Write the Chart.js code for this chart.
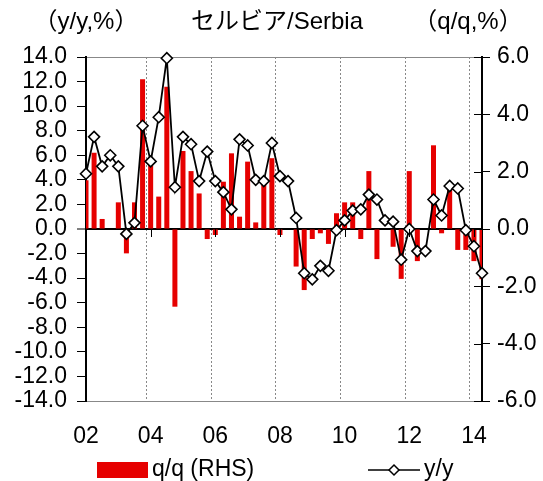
<!DOCTYPE html>
<html>
<head>
<meta charset="utf-8">
<script src="https://cdn.jsdelivr.net/npm/chart.js@4.4.1/dist/chart.umd.min.js"></script>
<style>
  body { margin: 0; background: #fff; }
  #wrap { width: 543px; height: 481px; position: relative; }
</style>
</head>
<body>
<div id="wrap"><canvas id="chart"></canvas></div>
<script>
// quarterly, 2002Q1 - 2014Q2
const quarters = [
  '02Q1','02Q2','02Q3','02Q4','03Q1','03Q2','03Q3','03Q4',
  '04Q1','04Q2','04Q3','04Q4','05Q1','05Q2','05Q3','05Q4',
  '06Q1','06Q2','06Q3','06Q4','07Q1','07Q2','07Q3','07Q4',
  '08Q1','08Q2','08Q3','08Q4','09Q1','09Q2','09Q3','09Q4',
  '10Q1','10Q2','10Q3','10Q4','11Q1','11Q2','11Q3','11Q4',
  '12Q1','12Q2','12Q3','12Q4','13Q1','13Q2','13Q3','13Q4',
  '14Q1','14Q2'
];
const yearLabels = ['02', '04', '06', '08', '10', '12', '14'];

// q/q, right axis
const qoq = [
  1.7, 2.66, 0.35, 0.0, 0.93, -0.85, 0.93, 5.22,
  2.23, 1.13, 4.96, -2.71, 2.72, 2.02, 1.24, -0.35,
  -0.21, 1.65, 2.64, 0.43, 2.35, 0.23, 1.65, 2.47,
  -0.21, 0.0, -1.31, -2.13, -0.35, -0.15, -0.52, 0.55,
  0.93, 0.93, -0.35, 2.02, -1.05, 0.0, -0.62, -1.74,
  2.02, -1.12, 0.0, 2.92, -0.15, 1.42, -0.73, -0.73,
  -1.12, -1.75
];
// y/y, left axis
const yoy = [
  4.5, 7.5, 5.1, 6.0, 5.1, -0.4, 0.5, 8.4,
  5.5, 9.1, 13.9, 3.4, 7.5, 6.9, 3.9, 6.3,
  3.9, 3.0, 1.6, 7.3, 6.8, 4.0, 3.9, 7.0,
  4.3, 3.9, 0.9, -3.6, -4.1, -3.0, -3.4, -0.1,
  0.7, 1.5, 1.6, 2.8, 2.4, 0.7, 0.6, -2.5,
  0.0, -1.8, -1.8, 2.4, 1.1, 3.5, 3.3, -0.1,
  -1.4, -3.6
];

const title = 'セルビア/Serbia';
const unitLeft = '（y/y,%）';
const unitRight = '（q/q,%）';

const FONT = "'Liberation Sans', Arial, 'Noto Sans CJK JP', sans-serif";
const RED = 'rgb(230,0,0)';

Chart.defaults.font.family = FONT;
Chart.defaults.font.size = 23;
Chart.defaults.color = '#000';

const decor = {
  id: 'decor',
  afterDraw(chart) {
    const {ctx, chartArea: a, scales} = chart;
    ctx.save();
    ctx.strokeStyle = '#000';
    ctx.lineWidth = 1;

    // inner half of the right axis ticks
    scales.y1.ticks.forEach(t => {
      const y = Math.round(scales.y1.getPixelForValue(t.value)) + 0.5;
      ctx.beginPath();
      ctx.moveTo(a.right - 8, y);
      ctx.lineTo(a.right, y);
      ctx.stroke();
    });

    // small year ticks hanging from the zero line
    const y0 = scales.y.getPixelForValue(0);
    scales.x.ticks.forEach((t, i) => {
      if (i % 8 === 0 && i > 0) {
        const x = Math.round(scales.x.getPixelForValue(i)) + 0.5;
        ctx.beginPath();
        ctx.moveTo(x, y0);
        ctx.lineTo(x, y0 + 8);
        ctx.stroke();
      }
    });

    // headings
    ctx.fillStyle = '#000';
    ctx.textBaseline = 'middle';
    ctx.textAlign = 'center';
    ctx.font = '24px ' + FONT;
    ctx.fillText(unitLeft, 86, 22);
    ctx.fillText(title, 277, 22);
    ctx.fillText(unitRight, 468, 22);

    // legend
    const ly = 470;
    ctx.font = '23px ' + FONT;
    ctx.textAlign = 'left';
    ctx.fillStyle = RED;
    ctx.fillRect(97, ly - 8, 51, 16);
    ctx.fillStyle = '#000';
    ctx.fillText(chart.data.datasets[1].label, 152, ly);

    ctx.lineWidth = 1.5;
    ctx.beginPath();
    ctx.moveTo(368, ly);
    ctx.lineTo(420, ly);
    ctx.stroke();
    ctx.beginPath();
    ctx.moveTo(394 - 5, ly);
    ctx.lineTo(394, ly - 5);
    ctx.lineTo(394 + 5, ly);
    ctx.lineTo(394, ly + 5);
    ctx.closePath();
    ctx.fillStyle = '#fff';
    ctx.fill();
    ctx.stroke();
    ctx.fillStyle = '#000';
    ctx.fillText(chart.data.datasets[0].label, 424, ly);

    ctx.restore();
  }
};

new Chart(document.getElementById('chart'), {
  data: {
    labels: quarters,
    datasets: [
      {
        type: 'line',
        label: 'y/y',
        data: yoy,
        yAxisID: 'y',
        order: 0,
        borderColor: '#000',
        borderWidth: 1.8,
        tension: 0,
        pointStyle: 'rectRot',
        pointRadius: 5.5,
        pointBackgroundColor: '#fff',
        pointBorderColor: '#000',
        pointBorderWidth: 1.6,
        clip: false,
      },
      {
        type: 'bar',
        label: 'q/q (RHS)',
        data: qoq,
        yAxisID: 'y1',
        order: 1,
        backgroundColor: RED,
        barPercentage: 0.62,
        categoryPercentage: 1,
      },
    ],
  },
  plugins: [decor],
  options: {
    responsive: true,
    maintainAspectRatio: false,
    animation: false,
    layout: { padding: { top: 57, left: 0, right: 0, bottom: 0 } },
    plugins: { legend: { display: false }, tooltip: { enabled: false } },
    scales: {
      x: {
        offset: false,
        afterFit: s => { s.height = 80; },
        grid: {
          drawTicks: false,
          color: c => (c.index % 8 === 0 && c.index > 0) ? '#888' : 'transparent',
          lineWidth: 1,
        },
        border: { color: '#888', width: 1, dash: [2, 2] },
        ticks: {
          autoSkip: false,
          maxRotation: 0,
          padding: 22,
          callback: (v, i) => (i % 8 === 0 ? yearLabels[i / 8] : ''),
        },
      },
      y: {
        position: 'left',
        min: -14,
        max: 14,
        afterFit: s => { s.width = 86; },
        ticks: { stepSize: 2, autoSkip: false, padding: 10, callback: v => v.toFixed(1) },
        grid: {
          tickLength: 9,
          tickColor: '#000',
          tickWidth: 1,
          color: c => c.tick.value === 0 ? '#000' : (c.tick.value === 14 ? '#888' : 'transparent'),
          lineWidth: c => c.tick.value === 0 ? 2 : 1,
        },
        border: { color: '#000', width: 2 },
      },
      y1: {
        position: 'right',
        min: -6,
        max: 6,
        afterFit: s => { s.width = 61; },
        ticks: { stepSize: 2, autoSkip: false, padding: 7, callback: v => v.toFixed(1) },
        grid: {
          drawOnChartArea: false,
          tickLength: 8,
          tickColor: '#000',
          tickWidth: 1,
        },
        border: { color: '#000', width: 2 },
      },
    },
  },
});
</script>
</body>
</html>
